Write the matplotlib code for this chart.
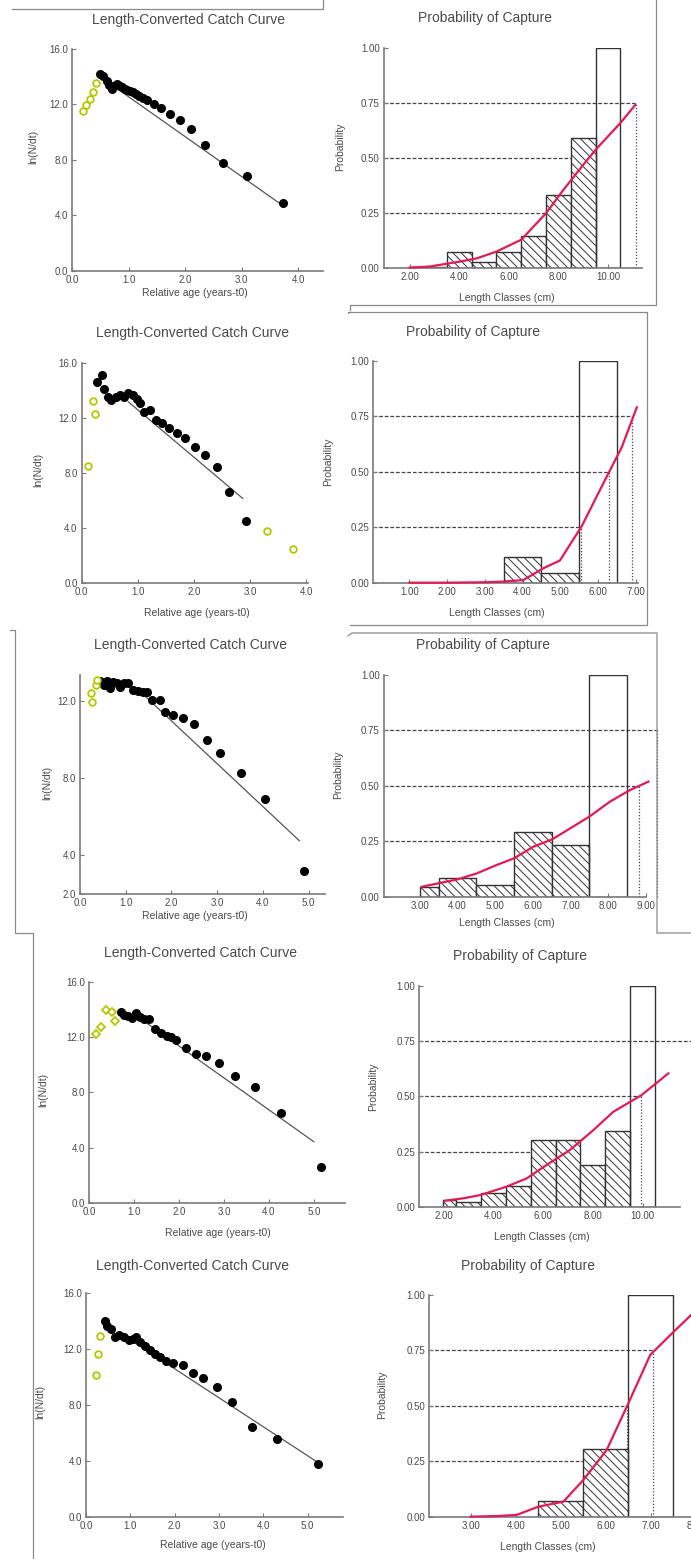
import matplotlib
matplotlib.use('Agg')
import matplotlib.pyplot as plt
from matplotlib.lines import Line2D
import numpy as np

plt.rcParams['font.family'] = ['Liberation Sans', 'DejaVu Sans']
plt.rcParams['hatch.linewidth'] = 0.7

W, H = 691, 1559

# ---------------- catch curves: relative age vs ln(N/dt) ----------------
# open markers = points left out of the regression
age_open_1 = [0.20, 0.25, 0.31, 0.37, 0.43]
lnN_open_1 = [11.5, 11.95, 12.35, 12.9, 13.55]
age_1 = [0.49, 0.55, 0.61, 0.66, 0.70, 0.75, 0.79, 0.84, 0.88, 0.93, 0.97, 1.02, 1.07,
         1.13, 1.19, 1.26, 1.33, 1.45, 1.58, 1.74, 1.91, 2.10, 2.35, 2.66, 3.09, 3.72]
lnN_1 = [14.2, 14.0, 13.7, 13.4, 13.1, 13.3, 13.45, 13.3, 13.25, 13.1, 13.0, 12.95, 12.85,
         12.7, 12.6, 12.45, 12.3, 12.0, 11.7, 11.27, 10.86, 10.2, 9.06, 7.75, 6.8, 4.87]
fit_age_1 = [0.79, 3.65]
fit_lnN_1 = [13.14, 4.92]

age_open_2 = [0.12, 0.21, 0.24, 3.30, 3.77]
lnN_open_2 = [8.48, 13.24, 12.27, 3.78, 2.42]
age_2 = [0.28, 0.36, 0.40, 0.46, 0.53, 0.61, 0.68, 0.75, 0.83, 0.91, 0.98, 1.04, 1.11,
         1.21, 1.33, 1.44, 1.56, 1.69, 1.84, 2.02, 2.20, 2.41, 2.63, 2.93]
lnN_2 = [14.6, 15.1, 14.06, 13.48, 13.3, 13.5, 13.65, 13.5, 13.8, 13.65, 13.33, 13.04, 12.44,
         12.56, 11.83, 11.59, 11.22, 10.9, 10.5, 9.9, 9.28, 8.39, 6.62, 4.51]
fit_age_2 = [0.83, 2.87]
fit_lnN_2 = [13.16, 6.13]

age_open_3 = [0.23, 0.27, 0.34, 0.38]
lnN_open_3 = [12.4, 11.95, 12.85, 13.1]
age_3 = [0.44, 0.53, 0.60, 0.66, 0.72, 0.80, 0.88, 0.96, 1.06, 1.15, 1.26, 1.37, 1.46,
         1.57, 1.74, 1.86, 2.04, 2.25, 2.50, 2.77, 3.07, 3.52, 4.05, 4.91]
lnN_3 = [13.05, 12.83, 13.05, 12.65, 13.0, 12.92, 12.74, 12.92, 12.95, 12.57, 12.54, 12.49,
         12.49, 12.05, 12.05, 11.45, 11.27, 11.1, 10.81, 9.98, 9.29, 8.25, 6.92, 3.21]
fit_age_3 = [1.28, 4.80]
fit_lnN_3 = [12.57, 4.76]

age_open_4 = [0.16, 0.25, 0.37, 0.50, 0.57]
lnN_open_4 = [12.2, 12.7, 14.0, 13.8, 13.2]
age_4 = [0.70, 0.77, 0.87, 0.96, 1.05, 1.14, 1.22, 1.34, 1.46, 1.59, 1.72, 1.81, 1.94,
         2.15, 2.37, 2.61, 2.89, 3.24, 3.69, 4.26, 5.15]
lnN_4 = [13.84, 13.6, 13.5, 13.36, 13.77, 13.48, 13.29, 13.29, 12.56, 12.32, 12.08, 11.98,
         11.79, 11.18, 10.77, 10.63, 10.1, 9.18, 8.36, 6.47, 2.56]
fit_age_4 = [1.13, 5.0]
fit_lnN_4 = [13.36, 4.42]

age_open_5 = [0.32, 0.26, 0.23]
lnN_open_5 = [12.94, 11.69, 10.14]
age_5 = [0.43, 0.48, 0.56, 0.66, 0.75, 0.86, 0.96, 1.05, 1.13, 1.22, 1.33, 1.45, 1.56,
         1.67, 1.81, 1.97, 2.18, 2.41, 2.65, 2.95, 3.29, 3.74, 4.31, 5.23]
lnN_5 = [14.03, 13.65, 13.48, 12.84, 13.0, 12.89, 12.65, 12.7, 12.84, 12.53, 12.22, 11.93,
         11.69, 11.41, 11.17, 11.03, 10.86, 10.31, 9.9, 9.31, 8.19, 6.44, 5.54, 3.77]
fit_age_5 = [1.07, 5.29]
fit_lnN_5 = [12.53, 3.77]

# ---------------- probability of capture ----------------
# class edges (cm) and observed probability per class
edges_1 = [2.0, 2.5, 3.5, 4.5, 5.5, 6.5, 7.5, 8.5, 9.5, 10.5]
prob_1 = [0.005, 0.008, 0.075, 0.03, 0.072, 0.147, 0.333, 0.594, 1.0]
curve_len_1 = [2.0, 2.8, 4.0, 4.7, 5.5, 6.5, 7.5, 8.2, 9.0, 9.55, 10.5, 11.1]
curve_p_1 = [0.003, 0.008, 0.03, 0.045, 0.076, 0.13, 0.25, 0.356, 0.47, 0.545, 0.66, 0.742]
lc_1 = [7.5, 9.22, 11.15]

edges_2 = [3.5, 4.5, 5.5, 6.5]
prob_2 = [0.117, 0.045, 1.0]
curve_len_2 = [1.0, 2.0, 3.0, 3.5, 4.02, 4.55, 4.99, 5.57, 6.05, 6.63, 7.03]
curve_p_2 = [0.0, 0.0, 0.002, 0.005, 0.012, 0.065, 0.10, 0.255, 0.417, 0.61, 0.79]
lc_2 = [5.55, 6.3, 6.9]

edges_3 = [3.0, 3.5, 4.5, 5.5, 6.5, 7.5, 8.5]
prob_3 = [0.045, 0.083, 0.053, 0.29, 0.233, 1.0]
curve_len_3 = [3.05, 4.0, 4.51, 5.04, 5.5, 6.02, 6.52, 6.99, 7.5, 8.05, 8.58, 9.07]
curve_p_3 = [0.045, 0.078, 0.105, 0.143, 0.173, 0.226, 0.259, 0.308, 0.361, 0.429, 0.481, 0.519]
lc_3 = [6.45, 8.83, 9.29]

edges_4 = [2.0, 2.5, 3.5, 4.5, 5.5, 6.5, 7.5, 8.5, 9.5, 10.5]
prob_4 = [0.03, 0.023, 0.06, 0.094, 0.30, 0.30, 0.19, 0.343, 1.0]
curve_len_4 = [2.06, 2.8, 3.49, 4.51, 5.34, 6.14, 7.08, 8.02, 8.82, 9.96, 11.03]
curve_p_4 = [0.027, 0.038, 0.053, 0.09, 0.128, 0.189, 0.257, 0.347, 0.43, 0.506, 0.604]
lc_4 = [7.0, 9.92, 12.4]

edges_5 = [4.5, 5.5, 6.5, 7.5]
prob_5 = [0.072, 0.304, 1.0]
curve_len_5 = [3.0, 3.58, 4.02, 4.5, 5.06, 5.5, 6.02, 6.5, 6.99, 7.54, 7.9]
curve_p_5 = [0.0, 0.003, 0.008, 0.045, 0.068, 0.165, 0.30, 0.51, 0.73, 0.84, 0.91]
lc_5 = [5.8, 6.48, 7.06]

prob_levels = [0.25, 0.50, 0.75]

AXIS_GREY = '#7a7a7a'
TEXT_GREY = '#4a4a4a'
RED = '#e31b54'
GREEN = '#b4c800'

fig = plt.figure(figsize=(W / 100, H / 100), dpi=100)
fig.patch.set_facecolor('white')


def px_axes(x0, y0, sx, sy, xlim, ylim):
    """Axes whose data origin (xlim[0], ylim[0]) sits at pixel (x0, y0)."""
    w = (xlim[1] - xlim[0]) * sx
    h = (ylim[1] - ylim[0]) * sy
    ax = fig.add_axes([x0 / W, 1 - y0 / H, w / W, h / H])
    ax.set_xlim(*xlim)
    ax.set_ylim(*ylim)
    ax.patch.set_alpha(0)
    for side in ('top', 'right'):
        ax.spines[side].set_visible(False)
    for side in ('left', 'bottom'):
        ax.spines[side].set_color(AXIS_GREY)
        ax.spines[side].set_linewidth(1.2)
    ax.tick_params(direction='in', length=3, width=0.8, color=AXIS_GREY,
                   labelsize=7, labelcolor=TEXT_GREY, pad=3)
    return ax


def px_text(x, y, s, size=7.5, rot=0):
    fig.text(x / W, 1 - y / H, s, ha='center', va='center', fontsize=size,
             rotation=rot, color=TEXT_GREY)


def catch_panel(geom, ages, lnN, age_open, lnN_open, fit_age, fit_lnN, xticks, yticks,
                open_marker='o'):
    x0, y0, sx, sy, xlim, ylim = geom
    ax = px_axes(x0, y0, sx, sy, xlim, ylim)
    ax.plot(fit_age, fit_lnN, color='#555555', lw=0.9, zorder=2)
    ax.plot(ages, lnN, 'o', color='black', ms=5.5, zorder=3)
    ax.plot(age_open, lnN_open, open_marker, mfc='white', mec=GREEN, mew=1.3,
            ms=4.8 if open_marker == 'o' else 4.2, zorder=3, clip_on=False)
    ax.set_xticks(xticks)
    ax.set_xticklabels([f'{v:.1f}' for v in xticks])
    ax.set_yticks(yticks)
    ax.set_yticklabels([f'{v:.1f}' for v in yticks])
    return ax


def prob_panel(geom, edges, prob, curve_len, curve_p, lc, xticks):
    x0, y0, sx, sy, xlim, ylim = geom
    ax = px_axes(x0, y0, sx, sy, xlim, ylim)
    edges = np.asarray(edges)
    widths = np.diff(edges)
    n = len(prob)
    # hatched classes are opaque, the last (fully selected) class is open
    ax.bar(edges[:n - 1], prob[:n - 1], width=widths[:n - 1], align='edge',
           facecolor='white', edgecolor='#333333', linewidth=1.0,
           hatch='\\\\\\\\', zorder=2)
    ax.bar(edges[n - 1], prob[n - 1], width=widths[n - 1], align='edge',
           facecolor='none', edgecolor='#333333', linewidth=1.0, zorder=2)
    # L25 / L50 / L75 guide lines
    for level, lval in zip(prob_levels, lc):
        ax.plot([xlim[0], lval], [level, level], color='#444444', lw=0.9,
                linestyle=(0, (3, 1.5)), zorder=1, clip_on=False)
        ax.plot([lval, lval], [0, level], color='#444444', lw=0.9,
                linestyle=(0, (1, 1.5)), zorder=1, clip_on=False)
    ax.plot(curve_len, curve_p, color=RED, lw=1.6, zorder=4, clip_on=False)
    ax.set_xticks(xticks)
    ax.set_xticklabels([f'{v:.2f}' for v in xticks])
    ax.set_yticks([0, 0.25, 0.5, 0.75, 1.0])
    ax.set_yticklabels(['0.00', '0.25', '0.50', '0.75', '1.00'])
    return ax


# ---- left column: length-converted catch curves ----
catch_panel((72, 271, 56.6, 13.9, (0, 4.43), (0, 16)), age_1, lnN_1, age_open_1, lnN_open_1,
            fit_age_1, fit_lnN_1, [0, 1, 2, 3, 4], [0, 4, 8, 12, 16])
catch_panel((81.7, 582.7, 56.1, 13.75, (0, 4.04), (0, 16)), age_2, lnN_2, age_open_2, lnN_open_2,
            fit_age_2, fit_lnN_2, [0, 1, 2, 3, 4], [0, 4, 8, 12, 16])
catch_panel((80, 894, 45.7, 19.3, (0, 5.36), (2, 13.35)), age_3, lnN_3, age_open_3, lnN_open_3,
            fit_age_3, fit_lnN_3, [0, 1, 2, 3, 4, 5], [2, 4, 8, 12])
catch_panel((89.3, 1202.7, 44.9, 13.8, (0, 5.69), (0, 16)), age_4, lnN_4, age_open_4, lnN_open_4,
            fit_age_4, fit_lnN_4, [0, 1, 2, 3, 4, 5], [0, 4, 8, 12, 16], open_marker='D')
catch_panel((86, 1516.7, 44.3, 13.96, (0, 5.8), (0, 16)), age_5, lnN_5, age_open_5, lnN_open_5,
            fit_age_5, fit_lnN_5, [0, 1, 2, 3, 4, 5], [0, 4, 8, 12, 16])

# ---- right column: probability of capture ----
prob_panel((384, 268.3, 24.77, 220, (0.96, 11.37), (0, 1)), edges_1, prob_1,
           curve_len_1, curve_p_1, lc_1, [2, 4, 6, 8, 10])
prob_panel((373.3, 582.7, 37.7, 222, (0.04, 7.07), (0, 1)), edges_2, prob_2,
           curve_len_2, curve_p_2, lc_2, [1, 2, 3, 4, 5, 6, 7])
prob_panel((384, 896.7, 37.67, 221.7, (2.05, 9.0), (0, 1)), edges_3, prob_3,
           curve_len_3, curve_p_3, lc_3, [3, 4, 5, 6, 7, 8, 9])
prob_panel((419.3, 1206.7, 24.9, 220.7, (1.03, 11.5), (0, 1)), edges_4, prob_4,
           curve_len_4, curve_p_4, lc_4, [2, 4, 6, 8, 10])
prob_panel((429.3, 1516.7, 45, 221.7, (2.08, 8.4), (0, 1)), edges_5, prob_5,
           curve_len_5, curve_p_5, lc_5, [3, 4, 5, 6, 7, 8])

# ---- titles and axis labels ----
left_text = [((188, 20), (195, 293), (33, 147)),
             ((192, 333), (197, 613), (38, 470)),
             ((190, 645), (195, 916), (47, 783)),
             ((200, 953), (218, 1233), (43, 1090)),
             ((193, 1266), (213, 1545), (40, 1402))]
right_text = [((485, 18), (507, 298), (340, 147)),
              ((473, 332), (497, 613), (328, 462)),
              ((483, 645), (507, 923), (338, 775)),
              ((520, 956), (542, 1237), (373, 1087)),
              ((528, 1266), (548, 1547), (382, 1395))]
for t, xl, yl in left_text:
    px_text(*t, 'Length-Converted Catch Curve', size=10)
    px_text(*xl, 'Relative age (years-t0)', size=7.5)
    px_text(*yl, 'ln(N/dt)', size=7.5, rot=90)
for t, xl, yl in right_text:
    px_text(*t, 'Probability of Capture', size=10)
    px_text(*xl, 'Length Classes (cm)', size=7.5)
    px_text(*yl, 'Probability', size=7.5, rot=90)

# ---- panel frame edges ----
frame_segments = [
    [(12, 9), (323, 9), (323, 0)],
    [(656, 0), (656, 305), (350, 305), (350, 310)],
    [(348, 313), (348, 312), (647, 312), (647, 625), (350, 625)],
    [(348, 636), (352, 633), (657, 633), (657, 933), (691, 933)],
    [(10, 630), (15, 630), (15, 933), (33, 933), (33, 1559)],
]
for seg in frame_segments:
    xs = [p[0] / W for p in seg]
    ys = [1 - p[1] / H for p in seg]
    fig.add_artist(Line2D(xs, ys, transform=fig.transFigure, color='#8a8a8a', lw=0.9))

fig.savefig('out.png', dpi=100, facecolor='white')
